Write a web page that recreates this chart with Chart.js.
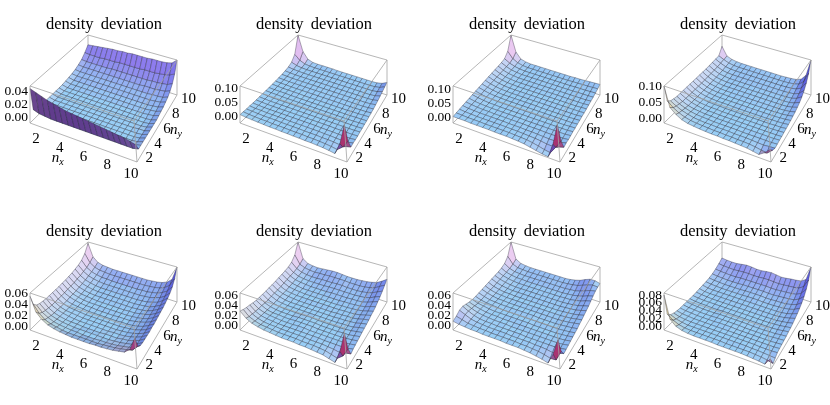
<!DOCTYPE html>
<html>
<head>
<meta charset="utf-8">
<script src="https://cdn.jsdelivr.net/npm/chart.js@4.4.1/dist/chart.umd.min.js"></script>
<style>
  html, body { margin: 0; padding: 0; background: #fff; overflow: hidden; }
  #wrap { position: relative; width: 830px; height: 405px; overflow: hidden; }
  #wrap canvas { position: absolute; }
</style>
</head>
<body>
<div id="wrap"></div>
<script>
// tick labels
const nxTicks = [2, 4, 6, 8, 10];
const nyTicks = [2, 4, 6, 8, 10];
const zTicks = [
  [0, 0.02, 0.04],
  [0, 0.05, 0.10],
  [0, 0.05, 0.10],
  [0, 0.05, 0.10],
  [0, 0.02, 0.04, 0.06],
  [0, 0.02, 0.04, 0.06],
  [0, 0.02, 0.04, 0.06],
  [0, 0.02, 0.04, 0.06, 0.08]
];
// plot range of the z axis in each panel
const zRanges = [
  [-0.008, 0.049], [-0.021, 0.107], [-0.021, 0.111], [-0.015, 0.100],
  [-0.007, 0.061], [-0.010, 0.064], [-0.010, 0.066], [-0.008, 0.085]
];

// density deviation, units of 1e-3
// rows: n_y = 1, 1.5, ... 10   columns: n_x = 1, 1.5, ... 10
const dev1 = [
  [45,42,39,36,34,32,30,29,28,27,26,25,24,23,22,21,20,18,16],
  [8,5,4,3,3,3,3,3,3,3,3,3,3,3,3,3,3,3,5],
  [4,2,2,2,2,2,2,2,2,2,2,2,2,2,2,2,2,3,5],
  [3,1,1,1,1,1,1,1,1,1,1,1,1,1,1,1,1,2,5],
  [3,1,1,1,1,1,1,1,1,1,1,1,1,1,1,1,1,2,5],
  [3,1,1,1,1,1,1,1,1,1,1,1,1,1,1,1,1,2,5],
  [3,1,1,1,1,1,1,1,1,1,1,1,1,1,1,1,2,2,5],
  [3,1,1,1,1,1,1,1,1,1,1,1,1,1,1,1,1,2,5],
  [3,1,1,1,1,1,1,1,1,1,1,1,1,1,1,1,1,2,5],
  [3,1,1,1,1,1,1,1,1,1,1,1,1,1,1,1,1,2,5],
  [3,1,1,1,1,1,1,1,1,1,1,1,1,1,1,1,2,3,6],
  [4,2,2,2,2,2,2,2,2,2,2,2,2,2,2,2,3,4,7],
  [5,3,3,3,3,3,3,3,3,3,3,3,3,3,3,3,4,5,8],
  [6,5,5,5,5,5,5,5,5,5,5,5,5,5,5,5,6,7,10],
  [8,7,7,7,7,7,7,7,7,7,7,7,7,7,7,8,8,9,12],
  [11,10,10,10,10,10,10,10,10,10,10,10,10,11,11,11,12,13,16],
  [15,14,14,14,14,14,15,15,15,15,15,15,15,15,16,16,17,18,22],
  [22,21,21,21,22,22,22,23,23,23,23,23,24,24,24,25,26,28,32],
  [31,32,33,34,35,36,36,37,37,38,38,38,38,39,39,39,40,42,49]
];
const dev2 = [
  [8,6,5,4,3,2,2,1,1,0,0,-1,-1,-2,-3,-5,-8,30,95],
  [7,5,4,3,3,2,2,2,1,1,1,0,0,-1,-2,-4,-7,8,33],
  [6,5,4,3,3,3,2,2,2,2,1,1,1,0,0,-1,-3,-2,3],
  [6,4,4,3,3,3,3,2,2,2,2,2,2,1,1,0,-1,0,4],
  [5,4,3,3,3,3,3,3,3,3,3,3,2,2,2,1,1,1,3],
  [5,4,3,3,3,3,3,3,3,3,3,3,3,3,2,2,2,2,3],
  [5,4,3,3,3,3,3,3,3,3,3,3,3,3,3,3,3,3,4],
  [5,4,3,3,3,3,3,3,3,3,3,3,3,3,3,3,3,3,4],
  [5,4,4,3,3,3,3,3,3,3,3,3,3,3,3,3,3,4,5],
  [5,4,4,4,3,3,3,3,3,3,3,3,3,3,3,3,4,4,5],
  [6,5,4,4,4,4,3,3,3,3,3,3,3,3,3,4,4,5,6],
  [6,5,5,4,4,4,4,4,4,4,4,4,4,4,4,4,5,5,7],
  [7,6,5,5,5,5,5,5,5,5,5,5,5,5,5,5,5,6,8],
  [8,7,6,6,6,6,6,6,6,6,6,6,6,6,6,6,6,7,10],
  [10,8,7,7,7,7,7,7,7,7,7,7,7,7,7,7,7,8,12],
  [13,10,9,8,8,8,8,8,8,8,8,8,8,8,8,8,8,10,15],
  [20,13,10,9,9,9,9,9,9,9,9,9,9,9,9,9,9,12,18],
  [40,22,13,11,10,10,10,10,10,10,10,10,10,10,10,10,11,14,22],
  [107,45,20,13,12,12,12,12,11,11,11,11,11,11,11,11,12,16,25]
];
const dev3 = [
  [2,2,2,1,1,1,1,0,0,0,-1,-2,-4,-8,-12,-16,-18,30,100],
  [4,3,2,2,2,1,1,1,1,1,0,-1,-2,-5,-9,-14,-17,8,35],
  [6,4,3,2,2,2,2,2,2,1,1,0,-1,-2,-4,-7,-8,-3,3],
  [8,5,4,3,3,3,3,3,2,2,2,1,1,0,-1,-2,-2,0,5],
  [10,7,5,4,4,3,3,3,3,3,3,2,2,2,1,1,1,2,4],
  [12,8,6,5,4,4,4,4,4,4,3,3,3,3,3,3,3,3,5],
  [14,10,7,5,5,4,4,4,4,4,4,4,4,4,4,4,4,4,6],
  [16,11,8,6,5,5,5,5,5,5,5,5,4,4,4,4,4,5,6],
  [18,13,9,7,6,5,5,5,5,5,5,5,5,5,5,5,5,5,7],
  [20,14,10,7,6,6,6,6,6,6,6,5,5,5,5,5,5,6,7],
  [22,15,11,8,7,6,6,6,6,6,6,6,6,6,6,6,6,6,8],
  [24,17,12,9,7,7,7,7,7,7,7,7,7,7,7,7,7,7,8],
  [26,18,12,9,8,7,7,7,7,7,7,7,7,7,7,7,7,8,9],
  [28,19,13,10,8,8,8,8,8,8,8,8,8,8,8,8,8,8,10],
  [30,20,14,11,9,9,9,9,9,9,9,9,9,9,9,9,9,9,11],
  [32,22,15,12,10,10,10,10,10,10,10,10,10,10,10,11,11,11,12],
  [36,24,17,13,11,11,11,11,11,11,11,11,11,11,12,12,12,13,14],
  [55,30,19,14,12,12,12,12,12,12,12,12,12,13,13,14,14,15,16],
  [111,45,22,16,14,14,14,14,14,14,14,14,14,15,15,16,17,18,19]
];
const dev4 = [
  [100,40,25,15,10,8,6,5,4,4,3,3,2,1,0,-3,-6,5,20],
  [45,30,20,13,9,7,6,5,4,4,3,3,2,2,1,-1,-4,-6,8],
  [35,25,17,12,8,6,5,5,4,4,4,3,3,3,2,1,0,2,3],
  [32,22,15,10,7,6,5,4,4,4,4,4,3,3,3,3,3,3,4],
  [30,20,13,9,7,5,5,4,4,4,4,4,4,4,4,4,4,4,5],
  [30,20,13,9,6,5,5,4,4,4,4,4,4,4,4,4,4,4,5],
  [30,19,12,8,6,5,5,4,4,4,4,4,4,4,4,4,4,5,6],
  [30,19,12,8,6,5,5,4,4,4,4,4,4,4,4,4,5,5,7],
  [30,19,12,8,6,5,5,5,4,4,4,4,4,4,4,5,5,6,8],
  [30,19,12,8,6,5,5,5,5,5,5,5,5,5,5,5,6,7,9],
  [30,19,12,8,6,6,5,5,5,5,5,5,5,5,5,6,6,8,11],
  [30,19,12,9,7,6,6,6,6,6,6,6,6,6,6,6,7,9,13],
  [30,20,13,9,7,7,7,7,7,7,7,7,7,7,7,7,8,11,16],
  [30,20,13,10,8,8,8,8,8,8,8,8,8,8,8,8,9,13,20],
  [31,21,14,11,9,9,9,9,9,9,9,9,9,9,9,10,11,16,26],
  [32,22,15,12,11,11,11,11,11,11,11,11,11,11,11,12,14,20,35],
  [33,24,17,14,13,13,13,13,13,13,13,13,13,13,14,15,18,26,48],
  [34,26,19,16,15,15,15,15,15,15,15,15,15,15,16,18,22,35,68],
  [58,28,21,18,17,17,17,17,17,17,17,17,17,18,19,21,27,45,100]
];
const dev5 = [
  [55,30,20,14,11,9,8,7,7,7,7,8,8,9,10,12,14,22,44],
  [35,22,14,10,8,6,5,5,5,5,5,5,6,7,8,10,12,15,25],
  [28,18,12,8,6,5,4,4,3,3,3,4,4,5,6,8,10,13,20],
  [25,16,10,7,5,4,3,3,3,3,3,3,3,4,5,7,9,13,19],
  [24,15,9,6,4,3,3,2,2,2,2,3,3,3,5,6,9,13,19],
  [23,14,9,6,4,3,2,2,2,2,2,2,3,3,4,6,9,13,19],
  [23,14,8,5,4,3,2,2,2,2,2,2,2,3,4,6,9,13,19],
  [23,14,8,5,4,3,2,2,2,2,2,2,2,3,4,6,9,13,20],
  [23,14,8,5,4,3,2,2,2,2,2,2,3,3,4,6,9,14,20],
  [23,14,9,6,4,3,3,2,2,2,2,3,3,3,5,7,10,14,21],
  [24,15,9,6,4,3,3,3,3,3,3,3,3,4,5,7,10,15,22],
  [24,15,9,6,5,4,3,3,3,3,3,3,4,4,6,8,11,16,23],
  [25,16,10,7,5,4,4,4,4,4,4,4,4,5,6,8,12,17,24],
  [26,17,11,8,6,5,5,5,5,5,5,5,5,6,7,9,13,18,26],
  [28,18,12,9,7,6,6,6,6,6,6,6,6,7,8,11,14,20,28],
  [30,20,14,11,9,8,8,8,8,8,8,8,8,9,10,13,16,22,31],
  [34,22,16,13,11,11,10,10,10,10,10,10,11,11,13,15,19,25,36],
  [42,26,19,16,15,14,14,14,14,14,14,14,14,15,16,18,22,29,45],
  [58,32,23,20,19,18,18,18,18,18,18,18,18,19,20,22,26,34,61]
];
const dev6 = [
  [28,18,12,9,7,6,5,4,4,4,3,3,2,1,0,-3,-6,18,55],
  [25,15,10,7,6,5,4,4,4,4,3,3,3,2,1,-2,-5,3,20],
  [23,14,9,6,5,5,4,4,4,4,4,3,3,3,2,1,-1,2,4],
  [22,13,8,6,5,4,4,4,4,4,4,4,4,3,3,3,3,4,6],
  [20,12,8,6,5,4,4,4,5,5,4,4,4,4,4,4,4,5,7],
  [19,12,7,5,5,4,4,5,5,5,5,4,4,4,4,4,5,6,8],
  [19,11,7,5,4,4,4,5,5,5,5,4,4,4,4,5,5,7,9],
  [19,11,7,5,4,4,4,4,5,5,4,4,4,4,4,5,6,8,10],
  [19,12,7,5,4,4,4,4,4,4,4,4,4,4,5,5,6,9,11],
  [20,12,8,5,4,4,4,4,4,4,4,4,4,5,5,6,7,10,12],
  [20,12,8,6,5,4,4,4,4,4,4,4,5,5,6,6,8,11,13],
  [21,13,8,6,5,5,5,5,5,5,5,5,5,6,6,7,9,12,15],
  [22,14,9,7,6,5,5,5,5,5,5,5,6,6,7,8,10,13,16],
  [23,15,10,8,6,6,6,6,6,6,6,6,7,7,8,9,11,15,18],
  [24,16,11,9,8,7,7,7,7,8,8,8,8,9,9,10,13,17,21],
  [26,17,12,10,9,9,9,9,10,10,10,10,10,10,11,12,15,20,24],
  [30,19,14,12,11,11,12,12,12,13,13,12,12,12,13,15,18,23,28],
  [40,22,17,15,14,15,15,16,16,16,16,15,15,15,16,18,21,27,33],
  [64,28,20,18,17,18,19,20,20,19,18,18,18,19,20,22,25,31,38]
];
const dev7 = [
  [8,6,5,4,4,3,3,3,3,2,2,2,1,0,-2,-4,-7,14,44],
  [12,9,6,5,4,4,3,3,3,3,3,2,2,1,0,-2,-5,-4,16],
  [18,13,8,6,5,4,4,4,4,3,3,3,3,2,2,1,-1,2,5],
  [20,14,9,6,5,5,4,4,4,4,4,3,3,3,3,3,3,4,6],
  [18,13,9,7,6,5,5,5,4,4,4,4,4,4,4,4,4,5,7],
  [16,12,9,7,6,6,5,5,5,5,5,5,5,5,5,5,5,6,8],
  [15,11,9,7,6,6,6,6,6,6,6,5,5,5,5,5,6,7,9],
  [15,11,9,8,7,6,6,6,6,6,6,6,6,6,6,6,7,8,10],
  [16,12,9,8,7,7,7,7,7,7,7,6,6,6,6,7,8,9,11],
  [17,13,10,8,8,7,7,7,7,7,7,7,7,7,7,8,9,11,13],
  [18,13,10,9,8,8,8,8,8,8,8,8,8,8,8,9,10,12,14],
  [19,14,11,9,9,8,8,8,8,8,8,8,8,8,9,10,11,13,16],
  [20,15,12,10,9,9,9,9,9,9,9,9,9,9,10,11,12,15,18],
  [21,16,13,11,10,10,10,10,10,10,10,10,10,10,11,12,14,17,20],
  [22,17,14,12,11,11,11,11,11,11,11,11,11,12,12,14,16,20,23],
  [24,18,15,13,13,12,12,12,12,12,12,12,12,13,14,16,19,23,26],
  [28,20,16,15,14,14,14,14,14,14,14,14,14,15,16,19,23,27,29],
  [38,23,18,17,16,16,16,16,16,16,16,16,17,18,20,24,28,31,30],
  [66,28,21,19,18,18,18,18,18,18,18,18,19,21,24,29,33,33,30]
];
const dev8 = [
  [80,25,12,7,5,4,4,4,4,3,3,3,3,3,2,1,0,-2,15],
  [25,14,8,5,4,4,4,4,4,4,3,3,3,3,3,2,1,-1,-4],
  [15,9,6,4,4,4,4,4,4,4,4,4,4,4,3,3,2,1,0],
  [11,7,5,4,4,4,4,4,4,4,4,4,4,4,4,3,3,3,4],
  [9,6,5,4,4,4,4,4,4,4,4,4,4,4,4,4,4,4,5],
  [8,6,5,4,4,4,4,5,5,5,4,4,4,4,4,4,4,5,6],
  [8,6,5,4,4,4,5,5,5,5,5,4,4,4,4,4,5,6,7],
  [8,6,5,4,4,4,5,5,5,5,5,5,4,4,4,5,5,7,8],
  [8,6,5,5,4,4,5,5,5,5,5,5,5,5,5,5,6,8,10],
  [8,6,5,5,5,5,5,5,5,5,5,5,5,5,5,6,7,9,11],
  [9,7,6,5,5,5,5,5,5,5,5,5,5,5,6,6,8,10,13],
  [10,7,6,6,6,6,6,6,6,6,6,6,6,6,6,7,9,12,16],
  [11,8,7,7,7,7,7,7,7,7,7,7,7,7,7,8,10,14,19],
  [12,10,9,8,8,8,8,8,9,9,9,8,8,8,9,10,12,16,23],
  [14,12,11,10,10,10,10,11,11,11,11,10,10,11,11,12,15,19,28],
  [17,15,14,13,13,13,14,14,14,14,14,13,13,14,15,16,18,24,35],
  [22,20,19,18,18,19,19,19,19,19,19,18,18,19,20,21,23,30,45],
  [29,27,26,25,26,27,27,26,26,27,27,26,25,26,27,28,30,38,60],
  [37,35,34,34,36,38,37,35,35,37,38,36,34,35,37,38,40,48,85]
];
const grids = [dev1, dev2, dev3, dev4, dev5, dev6, dev7, dev8];
const titleText = 'density deviation';

grids.forEach((g, k) => {
  if (g.length !== 19) throw new Error('panel ' + (k + 1) + ' has ' + g.length + ' rows');
  g.forEach((r, j) => { if (r.length !== 19) throw new Error('panel ' + (k + 1) + ' row ' + j + ' has ' + r.length); });
});

// layout of one panel (pixels inside its canvas)
const W = 215, H = 210;
const colX = [0, 210, 423, 634];
const rowY = [0, 207];
const BOT = [[30, 123], [137, 162], [177, 95], [88, 66]];  // box corners (x0,y0) (x1,y0) (x1,y1) (x0,y1)
const TOP = [[30, 86], [134, 121], [177, 60], [88, 35]];

function bilin(c, u, v) {
  const a = (1 - u) * (1 - v), b = u * (1 - v), d = u * v, e = (1 - u) * v;
  return [c[0][0] * a + c[1][0] * b + c[2][0] * d + c[3][0] * e,
          c[0][1] * a + c[1][1] * b + c[2][1] * d + c[3][1] * e];
}
function proj(u, v, w) {
  const b = bilin(BOT, u, v), t = bilin(TOP, u, v);
  return { x: b[0] + (t[0] - b[0]) * w, y: b[1] + (t[1] - b[1]) * w };
}

// surface colour from the facet normal (angle of its horizontal part)
const FLAT = [152, 206, 246];
const SIDE = [
  [0, [252, 228, 242]], [45, [240, 224, 172]], [90, [88, 48, 135]], [135, [176, 42, 100]],
  [180, [62, 62, 202]], [225, [100, 92, 234]], [270, [140, 112, 236]], [315, [236, 196, 240]],
  [360, [252, 228, 242]]
];
function shade(n) {
  const len = Math.hypot(n[0], n[1], n[2]);
  const s = Math.hypot(n[0], n[1]) / len;
  let a = Math.atan2(n[1], n[0]) * 180 / Math.PI;
  if (a < 0) a += 360;
  let k = 0;
  while (SIDE[k + 1][0] < a) k++;
  const f = (a - SIDE[k][0]) / (SIDE[k + 1][0] - SIDE[k][0]);
  const t = Math.pow(s, 1.15);
  const rgb = FLAT.map((c, m) => {
    const side = SIDE[k][1][m] + (SIDE[k + 1][1][m] - SIDE[k][1][m]) * f;
    return Math.round(c + (side - c) * t);
  });
  return 'rgb(' + rgb.join(',') + ')';
}

function lineSet(p, q) {
  return { data: [{ x: p.x, y: p.y }, { x: q.x, y: q.y }], showLine: true, fill: false,
    borderColor: '#a3a3a3', borderWidth: 0.8, pointRadius: 0, parsing: false };
}

function buildPanel(k) {
  const g = grids[k];
  const [z0, z1] = zRanges[k];
  const N = g.length;
  const pts = g.map((row, j) => row.map((val, i) => {
    const u = i / (N - 1), v = j / (N - 1);
    const w = (val / 1000 - z0) / (z1 - z0);
    return { u, v, w, p: proj(u, v, w) };
  }));
  const quads = [];
  for (let j = 0; j < N - 1; j++) {
    for (let i = 0; i < N - 1; i++) {
      const a = pts[j][i], b = pts[j][i + 1], c = pts[j + 1][i + 1], d = pts[j + 1][i];
      const d1 = [c.u - a.u, c.v - a.v, (c.w - a.w) * 0.4];
      const d2 = [d.u - b.u, d.v - b.v, (d.w - b.w) * 0.4];
      const n = [d1[1] * d2[2] - d1[2] * d2[1], d1[2] * d2[0] - d1[0] * d2[2], d1[0] * d2[1] - d1[1] * d2[0]];
      const depth = [a, b, c, d].reduce((s, q) => s - 1.3 * q.u + 2.4 * q.v - 0.8 * q.w, 0);
      quads.push({ depth, color: shade(n), corners: [a, b, c, d, a] });
    }
  }
  quads.sort((p, q) => p.depth - q.depth); // nearest first = drawn last
  const P = proj;
  const front = [
    lineSet(P(0, 0, 1), P(1, 0, 1)), lineSet(P(1, 0, 1), P(1, 1, 1)),
    lineSet(P(1, 1, 1), P(0, 1, 1)), lineSet(P(0, 1, 1), P(0, 0, 1)),
    lineSet(P(0, 0, 0), P(0, 0, 1)), lineSet(P(1, 0, 0), P(1, 0, 1)), lineSet(P(1, 1, 0), P(1, 1, 1)),
    lineSet(P(0, 0, 0), P(1, 0, 0)), lineSet(P(1, 0, 0), P(1, 1, 0))
  ];
  const back = [
    lineSet(P(0, 1, 0), P(0, 1, 1)), lineSet(P(0, 0, 0), P(0, 1, 0)), lineSet(P(0, 1, 0), P(1, 1, 0))
  ];
  const surf = quads.map(q => ({
    data: q.corners.map(c => ({ x: c.p.x, y: c.p.y })),
    showLine: true,
    fill: 'shape',
    backgroundColor: q.color,
    borderColor: 'rgba(35,35,50,0.7)',
    borderWidth: 0.5,
    borderJoinStyle: 'round',
    pointRadius: 0,
    parsing: false
  }));
  return front.concat(surf, back);
}

function subLabel(ctx, main, sub, cx, cy) {
  ctx.font = 'italic 15px "Liberation Serif", serif';
  const w1 = ctx.measureText(main).width;
  ctx.font = 'italic 10px "Liberation Serif", serif';
  const w2 = ctx.measureText(sub).width;
  const x0 = cx - (w1 + w2) / 2;
  ctx.textAlign = 'left';
  ctx.font = 'italic 15px "Liberation Serif", serif';
  ctx.fillText(main, x0, cy);
  ctx.font = 'italic 10px "Liberation Serif", serif';
  ctx.fillText(sub, x0 + w1, cy + 4);
}

const panelLabels = {
  id: 'panelLabels',
  afterDatasetsDraw(chart, args, opts) {
    const { ctx } = chart;
    const sx = chart.scales.x, sy = chart.scales.y;
    const at = p => [sx.getPixelForValue(p.x), sy.getPixelForValue(p.y)];
    ctx.save();
    ctx.fillStyle = '#000';
    ctx.textAlign = 'center';
    ctx.textBaseline = 'alphabetic';
    ctx.font = '16.5px "Liberation Serif", "Times New Roman", serif';
    ctx.wordSpacing = '3px';
    ctx.fillText(titleText, sx.getPixelForValue(104), sy.getPixelForValue(29));
    ctx.wordSpacing = '0px';

    ctx.textBaseline = 'middle';
    ctx.font = '15px "Liberation Serif", serif';
    nxTicks.forEach(n => {
      const [X, Y] = at(proj((n - 1) / 9, 0, 0));
      ctx.fillText(String(n), X - 6, Y + 12);
    });
    ctx.textAlign = 'left';
    nyTicks.forEach(n => {
      const [X, Y] = at(proj(1, (n - 1) / 9, 0));
      ctx.fillText(String(n), X + 4, Y + 4);
    });
    ctx.textAlign = 'right';
    ctx.font = '13.5px "Liberation Serif", serif';
    opts.zTicks.forEach(z => {
      const w = (z - opts.zr[0]) / (opts.zr[1] - opts.zr[0]);
      const [X, Y] = at(proj(0, 0, w));
      ctx.fillText(z.toFixed(2), X - 2, Y);
    });
    const ax = at(proj(1 / 3, 0, 0));
    subLabel(ctx, 'n', 'x', ax[0] - 8, ax[1] + 22);
    const ay = at(proj(1, 0.5, 0));
    subLabel(ctx, 'n', 'y', ay[0] + 19, ay[1] + 2);
    ctx.restore();
  }
};

const wrap = document.getElementById('wrap');
grids.forEach((g, k) => {
  const canvas = document.createElement('canvas');
  canvas.width = W;
  canvas.height = H;
  canvas.style.left = colX[k % 4] + 'px';
  canvas.style.top = rowY[Math.floor(k / 4)] + 'px';
  wrap.appendChild(canvas);
  new Chart(canvas, {
    type: 'scatter',
    data: { datasets: buildPanel(k) },
    options: {
      responsive: false,
      animation: false,
      events: [],
      layout: { padding: 0 },
      scales: {
        x: { type: 'linear', min: 0, max: W, display: false },
        y: { type: 'linear', min: 0, max: H, reverse: true, display: false }
      },
      elements: { point: { radius: 0, hitRadius: 0 }, line: { tension: 0 } },
      plugins: {
        legend: { display: false },
        tooltip: { enabled: false },
        filler: { propagate: false },
        panelLabels: { zTicks: zTicks[k], zr: zRanges[k] }
      }
    },
    plugins: [panelLabels]
  });
});
</script>
</body>
</html>
